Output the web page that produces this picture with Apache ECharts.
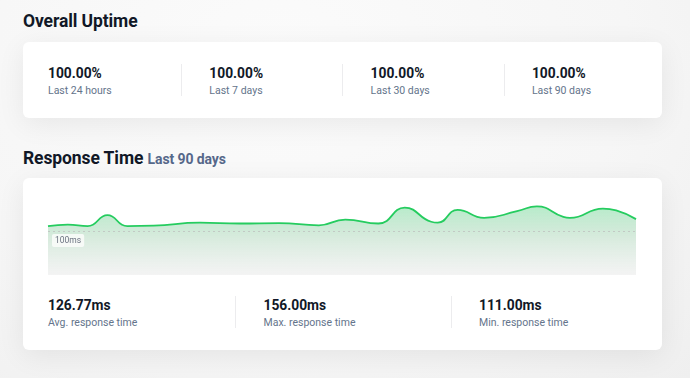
<!DOCTYPE html>
<html>
<head>
<meta charset="utf-8">
<script src="https://cdn.jsdelivr.net/npm/echarts@6/dist/echarts.min.js"></script>
<style>
  html, body { margin:0; padding:0; }
  body { width:690px; height:378px; background:#f4f4f5; font-family: Roboto, "Noto Sans", sans-serif; position:relative; overflow:hidden; }
  .bgtop { position:absolute; left:0; top:0; width:690px; height:378px; background: radial-gradient(ellipse at 40% 15%, #fbfbfb 0%, #f6f6f6 60%, #efefef 100%); }
  .h { position:absolute; left:23px; font-weight:700; color:#111827; font-size:17.5px; letter-spacing:-0.1px; }
  .h span { font-size:14px; color:#56688a; font-weight:700; margin-left:0px; }
  .card { position:absolute; left:23px; width:639px; background:#fff; border-radius:6px; box-shadow: 0 6px 28px rgba(0,0,0,0.07); }
  .stat { position:absolute; }
  .stat .v { font-weight:700; font-size:13.8px; color:#111827; }
  .stat .l { font-size:10.5px; color:#64748b; margin-top:3px; }
  .div { position:absolute; width:1px; background:#ececee; }
  #chart { position:absolute; left:23px; top:178px; width:639px; height:100px; }
</style>
</head>
<body>
<div class="bgtop"></div>
<div class="h" style="top:11px;">Overall Uptime</div>
<div class="card" style="top:42px;height:76px;"></div>
<div class="h" style="top:148px;">Response Time <span>Last 90 days</span></div>
<div class="card" style="top:178px;height:172px;"></div>
<div id="chart"></div>
<div id="stats"></div>
<script>
// Uptime summary
const uptimeValues = ["100.00%", "100.00%", "100.00%", "100.00%"];
const uptimeLabels = ["Last 24 hours", "Last 7 days", "Last 30 days", "Last 90 days"];
// Response time summary
const respValues = ["126.77ms", "156.00ms", "111.00ms"];
const respLabels = ["Avg. response time", "Max. response time", "Min. response time"];
// Response time series (day index, ms)
const days = [0, 3, 6, 9, 12, 16, 23, 29, 35, 41, 45, 50, 54, 58, 59, 62, 66, 71, 74, 78, 79, 84, 86, 89];
const responseMs = [111, 114.5, 111, 136, 111, 112, 119, 117, 118, 113, 126, 117, 153, 121, 119, 148, 130, 145, 156, 132, 130, 151, 147, 127];
const referenceMs = 100;

const stats = document.getElementById('stats');
function addStat(x, y, v, l) {
  const d = document.createElement('div');
  d.className = 'stat';
  d.style.left = x + 'px'; d.style.top = y + 'px';
  d.innerHTML = '<div class="v">' + v + '</div><div class="l">' + l + '</div>';
  stats.appendChild(d);
}
function addDiv(x, y, h) {
  const d = document.createElement('div');
  d.className = 'div';
  d.style.left = x + 'px'; d.style.top = y + 'px'; d.style.height = h + 'px';
  stats.appendChild(d);
}
uptimeValues.forEach((v, i) => {
  addStat(48 + i * 161.3, 65, v, uptimeLabels[i]);
  if (i > 0) addDiv(181 + (i - 1) * 161.3, 64, 32);
});
respValues.forEach((v, i) => {
  addStat(48 + i * 215.5, 297, v, respLabels[i]);
  if (i > 0) addDiv(235 + (i - 1) * 215.5, 296, 32);
});

const chart = echarts.init(document.getElementById('chart'), null, { renderer: 'canvas' });
chart.setOption({
  animation: false,
  grid: { left: 25, right: 26, top: 9, bottom: 3 },
  xAxis: { type: 'value', min: 0, max: 89, show: false },
  yAxis: { type: 'value', min: 0, max: 200, show: false, splitLine: { show: false } },
  series: [{
    type: 'line',
    data: days.map((d, i) => [d, responseMs[i]]),
    smooth: 0.5,
    symbol: 'none',
    lineStyle: { color: '#25cc5f', width: 1.8 },
    areaStyle: {
      color: new echarts.graphic.LinearGradient(0, 0, 0, 1, [
        { offset: 0, color: 'rgba(50,200,105,0.5)' },
        { offset: 0.4, color: 'rgba(100,180,125,0.4)' },
        { offset: 1, color: 'rgba(200,200,200,0.3)' }
      ])
    },
    markLine: {
      silent: true,
      symbol: 'none',
      data: [{ yAxis: referenceMs }],
      lineStyle: { color: '#c2c9c4', type: [2, 3], width: 1 },
      label: {
        show: true,
        position: 'insideStartBottom',
        formatter: referenceMs + 'ms',
        color: '#6b7280',
        fontSize: 8.5,
        fontFamily: 'Roboto',
        backgroundColor: 'rgba(250,252,250,0.9)',
        borderRadius: 2,
        padding: [2, 3],
        distance: [4, 3]
      }
    }
  }]
});
</script>
</body>
</html>
